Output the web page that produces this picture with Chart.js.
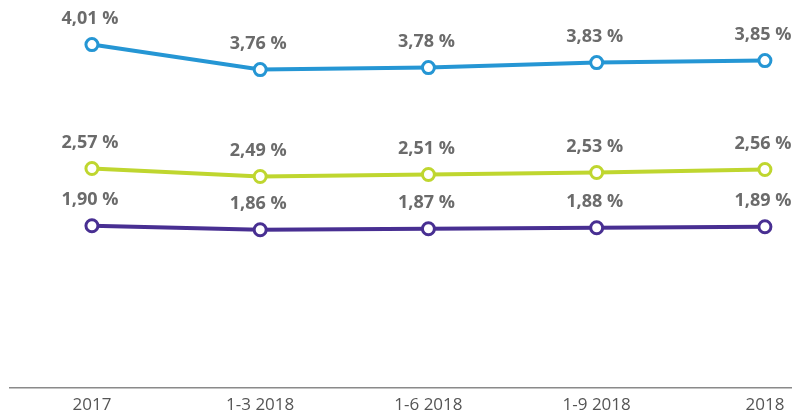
<!DOCTYPE html>
<html>
<head>
<meta charset="utf-8">
<script src="https://cdn.jsdelivr.net/npm/chart.js@4/dist/chart.umd.min.js"></script>
<style>
  html, body { margin: 0; padding: 0; background: #fff; }
  #wrap { width: 792px; height: 416px; }
</style>
</head>
<body>
<div id="wrap"><canvas id="rateChart"></canvas></div>
<script>
// --- DATA ---
const categories = ['2017', '1-3 2018', '1-6 2018', '1-9 2018', '2018'];
const seriesBlue = [4.01, 3.76, 3.78, 3.83, 3.85];
const seriesGreen = [2.57, 2.49, 2.51, 2.53, 2.56];
const seriesPurple = [1.90, 1.86, 1.87, 1.88, 1.89];

// each line sits on its own hidden axis (same scale, different offset)
const axisTop = { yBlue: 4.456, yGreen: 4.255, yPurple: 4.157 };
const axisSpan = 3.88;

const toPoints = arr => arr.map((v, i) => ({ x: i, y: v }));
const fmt = v => v.toFixed(2).replace('.', ',') + ' %';

// --- VALUE LABELS ABOVE POINTS ---
const valueLabels = {
    id: 'valueLabels',
    afterDatasetsDraw(chart) {
        const ctx = chart.ctx;
        ctx.save();
        ctx.font = 'bold 18px "Open Sans"';
        ctx.fillStyle = '#6b6b6b';
        ctx.textAlign = 'center';
        ctx.textBaseline = 'middle';
        chart.data.datasets.forEach((ds, d) => {
            chart.getDatasetMeta(d).data.forEach((pt, i) => {
                ctx.fillText(fmt(ds.data[i].y), pt.x - 2, pt.y - 26);
            });
        });
        ctx.restore();
    }
};

function line(data, color, axis) {
    return {
        data: toPoints(data),
        yAxisID: axis,
        borderColor: color,
        borderWidth: 4,
        pointRadius: 6,
        pointBorderWidth: 3,
        pointBackgroundColor: '#fff',
        pointBorderColor: color,
        tension: 0
    };
}

function hiddenAxis(id) {
    return { type: 'linear', display: false, min: axisTop[id] - axisSpan, max: axisTop[id] };
}

new Chart(document.getElementById('rateChart'), {
    type: 'line',
    data: {
        datasets: [
            line(seriesBlue, '#2596d4', 'yBlue'),
            line(seriesGreen, '#bfd62f', 'yGreen'),
            line(seriesPurple, '#482f92', 'yPurple')
        ]
    },
    options: {
        responsive: true,
        maintainAspectRatio: false,
        animation: false,
        layout: { autoPadding: false, padding: { left: 10, right: 0, top: 0, bottom: 0 } },
        plugins: { legend: { display: false }, tooltip: { enabled: false } },
        scales: {
            x: {
                type: 'linear',
                min: -0.487,
                max: 4.161,
                grid: { display: false, drawTicks: false },
                border: { display: true, color: '#8a8a8a', width: 1.5 },
                afterBuildTicks: s => { s.ticks = categories.map((c, i) => ({ value: i })); },
                afterFit: s => { s.height = 28; },
                ticks: {
                    autoSkip: false,
                    maxRotation: 0,
                    padding: 7,
                    color: '#555',
                    font: { family: '"Open Sans"', size: 17 },
                    callback: v => categories[v]
                }
            },
            yBlue: hiddenAxis('yBlue'),
            yGreen: hiddenAxis('yGreen'),
            yPurple: hiddenAxis('yPurple')
        }
    },
    plugins: [valueLabels]
});
</script>
</body>
</html>
